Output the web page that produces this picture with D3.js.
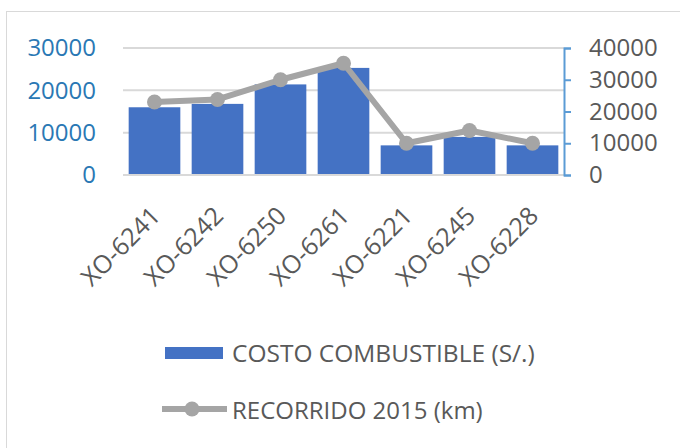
<!DOCTYPE html>
<html>
<head>
<meta charset="utf-8">
<script src="https://cdn.jsdelivr.net/npm/d3@7"></script>
<style>
  body { margin: 0; background: #fff; }
  text { font-family: "Open Sans", sans-serif; }
</style>
</head>
<body>
<div id="vis"></div>
<script>
// Chart data
const units = ['XO-6241', 'XO-6242', 'XO-6250', 'XO-6261', 'XO-6221', 'XO-6245', 'XO-6228'];
const fuelCost = [16000, 16800, 21400, 25300, 7000, 9000, 7000];   // S/.
const distance = [23000, 23800, 30000, 35200, 10000, 14000, 10000]; // km
const leftTicks = [0, 10000, 20000, 30000];
const rightTicks = [0, 10000, 20000, 30000, 40000];
const barLabel = 'COSTO COMBUSTIBLE (S/.)';
const lineLabel = 'RECORRIDO 2015 (km)';

const W = 680, H = 448;
const plot = { left: 123, right: 564, top: 48, bottom: 175 };

const svg = d3.select('#vis')
    .append('svg')
    .attr('width', W)
    .attr('height', H);

// chart frame
svg.append('rect')
    .attr('x', 6.5).attr('y', 11.5)
    .attr('width', 680).attr('height', 450)
    .attr('fill', 'none')
    .attr('stroke', '#d9d9d9');

const xScale = d3.scaleBand()
    .domain(units)
    .range([plot.left, plot.right])
    .paddingInner(0.18)
    .paddingOuter(0.09);

const yLeft = d3.scaleLinear()
    .domain([0, 30000])
    .range([plot.bottom, plot.top]);

const yRight = d3.scaleLinear()
    .domain([0, 40000])
    .range([plot.bottom, plot.top]);

// gridlines
svg.append('g')
    .selectAll('line')
    .data(leftTicks.filter(d => d > 0))
    .join('line')
    .attr('x1', plot.left).attr('x2', plot.right)
    .attr('y1', d => yLeft(d)).attr('y2', d => yLeft(d))
    .attr('stroke', '#d9d9d9')
    .attr('stroke-width', 2);

// bars
svg.append('g')
    .selectAll('rect')
    .data(units)
    .join('rect')
    .attr('x', d => xScale(d))
    .attr('width', xScale.bandwidth())
    .attr('y', (d, i) => yLeft(fuelCost[i]))
    .attr('height', (d, i) => yLeft(0) - yLeft(fuelCost[i]))
    .attr('fill', '#4472c4');

// category axis baseline
svg.append('line')
    .attr('x1', plot.left).attr('x2', plot.right)
    .attr('y1', plot.bottom).attr('y2', plot.bottom)
    .attr('stroke', '#d9d9d9')
    .attr('stroke-width', 2);

// line series
const lineGen = d3.line()
    .x((d, i) => xScale(units[i]) + xScale.bandwidth() / 2)
    .y(d => yRight(d));

svg.append('path')
    .datum(distance)
    .attr('d', lineGen)
    .attr('fill', 'none')
    .attr('stroke', '#a5a5a5')
    .attr('stroke-width', 6)
    .attr('stroke-linejoin', 'round');

svg.append('g')
    .selectAll('circle')
    .data(distance)
    .join('circle')
    .attr('cx', (d, i) => xScale(units[i]) + xScale.bandwidth() / 2)
    .attr('cy', d => yRight(d))
    .attr('r', 7.5)
    .attr('fill', '#a5a5a5');

// left axis (labels only)
const leftAxis = svg.append('g')
    .attr('transform', `translate(${plot.left - 27},0)`)
    .call(d3.axisLeft(yLeft).tickValues(leftTicks).tickFormat(d3.format('d')).tickSize(0).tickPadding(0));
leftAxis.select('.domain').remove();
leftAxis.selectAll('text')
    .attr('fill', '#2a78b4')
    .style('font-family', '"Open Sans", sans-serif')
    .style('font-size', '24px');

// right axis with blue line and ticks
const rightAxis = svg.append('g')
    .attr('transform', `translate(${plot.right},0)`)
    .call(d3.axisRight(yRight).tickValues(rightTicks).tickFormat(d3.format('d'))
        .tickSizeInner(7).tickSizeOuter(7).tickPadding(18));
rightAxis.select('.domain')
    .attr('stroke', '#5b9bd5')
    .attr('stroke-width', 2);
rightAxis.selectAll('.tick line')
    .attr('stroke', '#5b9bd5')
    .attr('stroke-width', 2);
rightAxis.selectAll('text')
    .attr('fill', '#595959')
    .style('font-family', '"Open Sans", sans-serif')
    .style('font-size', '24px');

// rotated category labels
svg.append('g')
    .selectAll('text')
    .data(units)
    .join('text')
    .attr('transform', d => `translate(${xScale(d) + xScale.bandwidth() / 2 - 5},${plot.bottom + 30}) rotate(-45)`)
    .attr('text-anchor', 'end')
    .attr('dy', '0.7em')
    .attr('fill', '#595959')
    .style('font-size', '25px')
    .text(d => d);

// legend
const legend = svg.append('g');
legend.append('rect')
    .attr('x', 165).attr('y', 347)
    .attr('width', 58).attr('height', 12)
    .attr('fill', '#4472c4');
legend.append('text')
    .attr('x', 232).attr('y', 362)
    .attr('fill', '#595959')
    .style('font-size', '24.5px')
    .text(barLabel);

legend.append('line')
    .attr('x1', 162).attr('x2', 227)
    .attr('y1', 409).attr('y2', 409)
    .attr('stroke', '#a5a5a5')
    .attr('stroke-width', 6);
legend.append('circle')
    .attr('cx', 192).attr('cy', 409)
    .attr('r', 7.5)
    .attr('fill', '#a5a5a5');
legend.append('text')
    .attr('x', 232).attr('y', 419)
    .attr('fill', '#595959')
    .style('font-size', '24px')
    .text(lineLabel);
</script>
</body>
</html>
